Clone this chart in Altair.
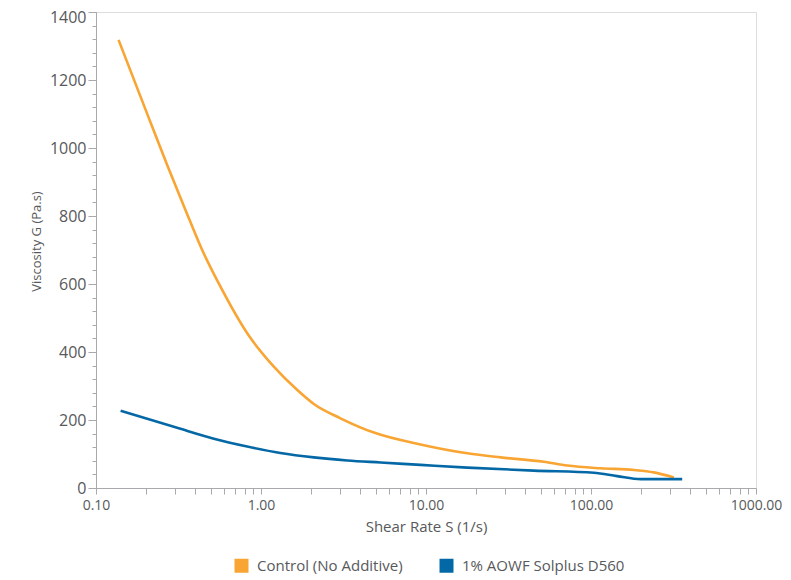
import altair as alt
import pandas as pd

# ---- data ----
control_x = [0.137, 0.206, 0.270, 0.345, 0.440, 0.568, 0.825, 1.196, 1.66, 2.09,
             3.03, 4.83, 9.26, 17.8, 28.3, 51.8, 71.8, 114, 182, 240, 318]
control_y = [1318, 1096, 950, 823, 700, 592, 455, 357, 288, 247,
             205, 163, 128, 102, 90, 77, 66, 58, 53, 46, 31]

additive_x = [0.141, 0.325, 0.518, 0.825, 1.31, 2.09, 3.33, 5.30, 9.26, 17.8, 45.0,
              104, 144, 200, 357]
additive_y = [227, 174, 145, 122, 103, 90, 81, 75, 68, 60, 51,
              45, 35, 26, 26]

series_names = ["Control (No Additive)", "1% AOWF Solplus D560"]
series_colors = ["#F9A533", "#0568A6"]

y_major = [0, 200, 400, 600, 800, 1000, 1200, 1400]
y_minor = list(range(0, 1401, 40))
x_ticks = [m * 10 ** e for e in range(-1, 3) for m in range(1, 10)] + [1000]

df = pd.concat([
    pd.DataFrame({"x": control_x, "y": control_y, "series": series_names[0], "order": range(len(control_x))}),
    pd.DataFrame({"x": additive_x, "y": additive_y, "series": series_names[1], "order": range(len(additive_x))}),
])

FONT = "Open Sans"
TXT = "#58595B"
AX = "#A7A9AC"

x_scale = alt.Scale(type="log", domain=[0.1, 1000], nice=False)
y_scale = alt.Scale(domain=[0, 1400], nice=False)
color_scale = alt.Scale(domain=series_names, range=series_colors)

x_enc = alt.X(
    "x:Q",
    scale=x_scale,
    axis=alt.Axis(
        values=x_ticks,
        labelExpr="abs(log(datum.value)/LN10 - round(log(datum.value)/LN10)) < 0.001 ? format(datum.value, '.2f') : ''",
        tickSize=6, tickColor=AX, domainColor=AX, labelPadding=4,
        labelFontSize=14, labelColor=TXT, labelFont=FONT, grid=False,
        title="Shear Rate S (1/s)", titleFontSize=15, titleFont=FONT, titleColor=TXT,
        titleFontWeight="normal", titleX=330, titleY=38, titleBaseline="middle",
        labelOverlap=False, labelFlush=False,
    ),
)

lines = alt.Chart(df).mark_line(strokeWidth=2.6, interpolate="monotone").encode(
    x=x_enc,
    y=alt.Y(
        "y:Q", scale=y_scale,
        axis=alt.Axis(
            values=y_major, orient="left", format="d", tickSize=8, tickColor=AX, domainColor=AX,
            labelPadding=2, labelFontSize=16, labelColor=TXT, labelFont=FONT, grid=False,
            labelOffset={"condition": {"test": "datum.value == 1400", "value": 5}, "value": 0},
            title="Viscosity G (Pa.s)", titleFontSize=13, titleFont=FONT, titleColor=TXT,
            titleFontWeight="normal", titleX=-60, titleY=229, titleAngle=-90,
            titleBaseline="middle", titleAlign="center",
        ),
    ),
    color=alt.Color("series:N", scale=color_scale, legend=None),
    order="order:Q",
)

keys = alt.Chart(df).mark_square(opacity=0).encode(
    x=alt.X("x:Q", scale=x_scale),
    y=alt.Y(
        "y:Q", scale=y_scale,
        axis=alt.Axis(values=y_minor, orient="left", tickSize=4, tickColor=AX,
                      labels=False, domain=False, grid=False, title=None),
    ),
    color=alt.Color(
        "series:N", scale=color_scale,
        legend=alt.Legend(
            title=None, orient="none", legendX=138, legendY=546, direction="horizontal",
            symbolType="square", symbolSize=196, symbolStrokeWidth=0, symbolOpacity=1,
            labelFontSize=15, labelFont=FONT, labelColor=TXT, labelOffset=8,
            labelLimit=400, columnPadding=36,
        ),
    ),
)

chart = alt.layer(lines, keys).resolve_axis(y="independent").resolve_legend(
    color="independent"
).properties(
    width=660, height=476,
    autosize=alt.AutoSizeParams(type="none"),
    padding={"left": 88, "top": 4, "right": 27, "bottom": 90},
).configure_view(stroke=AX, strokeWidth=1).configure(background="white")

chart.save("out.html", embed_options={"renderer": "svg", "actions": False})
